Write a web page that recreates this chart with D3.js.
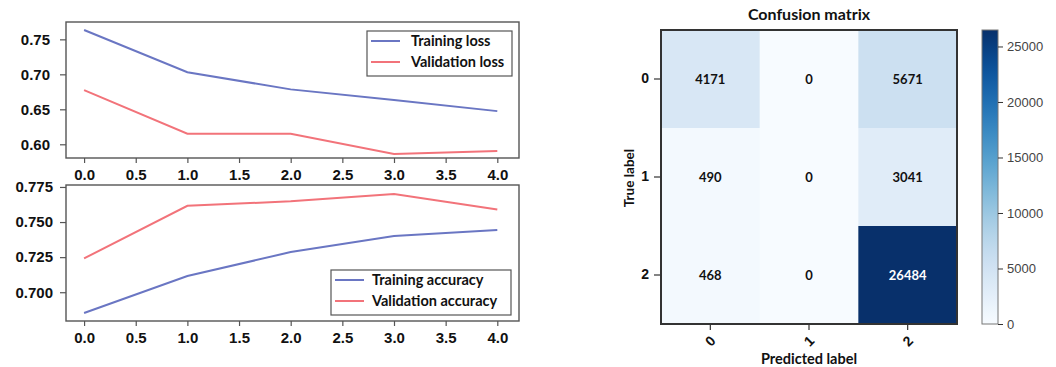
<!DOCTYPE html>
<html>
<head>
<meta charset="utf-8">
<script src="https://cdn.jsdelivr.net/npm/d3@7"></script>
<style>
  html, body { margin: 0; padding: 0; background: #fff; }
  svg { display: block; font-family: Lato, "Open Sans", sans-serif; }
</style>
</head>
<body>
<svg id="chart" width="1056" height="367"></svg>
<script>
// ---- training history ----
const epochs = [0, 1, 2, 3, 4];
const trainLoss = [0.7633, 0.7029, 0.6785, 0.6632, 0.6474];
const valLoss = [0.6775, 0.6152, 0.6152, 0.5861, 0.5904];
const trainAcc = [0.6852, 0.7116, 0.7286, 0.7400, 0.7443];
const valAcc = [0.7241, 0.7616, 0.7648, 0.7700, 0.7590];
const epochTicks = [0, 0.5, 1, 1.5, 2, 2.5, 3, 3.5, 4];
const lossTicks = [0.60, 0.65, 0.70, 0.75];
const accTicks = [0.700, 0.725, 0.750, 0.775];

// ---- confusion matrix ----
const classLabels = ["0", "1", "2"];
const matrix = [
  [4171, 0, 5671],
  [490, 0, 3041],
  [468, 0, 26484]
];
const colorbarTicks = [0, 5000, 10000, 15000, 20000, 25000];

const blue = "#6a76c3";
const red = "#f2737a";
const svg = d3.select("#chart");

function historyPanel(opts) {
  const { top, bottom, yDomain, yTicks, yFmt, series, legend, labelX, xLabelY } = opts;
  const x = d3.scaleLinear().domain([-0.175, 4.21]).range([66, 519]);
  const y = d3.scaleLinear().domain(yDomain).range([bottom, top]);
  const g = svg.append("g");

  const yAxis = g.append("g").attr("transform", "translate(66,0)")
    .call(d3.axisLeft(y).tickValues(yTicks).tickFormat(yFmt).tickSize(6).tickPadding(labelX));
  const xAxis = g.append("g").attr("transform", `translate(0,${bottom})`)
    .call(d3.axisBottom(x).tickValues(epochTicks).tickFormat(d3.format(".1f")).tickSize(5).tickPadding(xLabelY));
  [yAxis, xAxis].forEach(a => {
    a.select(".domain").remove();
    a.selectAll(".tick line").attr("stroke", "#555").attr("stroke-width", 1.2);
    a.selectAll(".tick text").attr("fill", "#111").attr("font-size", 15).attr("font-weight", 700);
  });

  const line = d3.line().x((d, i) => x(epochs[i])).y(d => y(d));
  series.forEach(s => {
    g.append("path").datum(s.values).attr("d", line)
      .attr("fill", "none").attr("stroke", s.color).attr("stroke-width", 2);
  });

  g.append("rect").attr("x", 66).attr("y", top).attr("width", 453).attr("height", bottom - top)
    .attr("fill", "none").attr("stroke", "#555").attr("stroke-width", 1.4);

  // legend
  const lg = g.append("g");
  lg.append("rect").attr("x", legend.x).attr("y", legend.y).attr("width", legend.w).attr("height", legend.h)
    .attr("fill", "#fff").attr("stroke", "#555").attr("stroke-width", 1.2);
  series.forEach((s, i) => {
    const cy = legend.y + 10 + i * 21;
    lg.append("line").attr("x1", legend.x + 4).attr("x2", legend.x + 33).attr("y1", cy).attr("y2", cy)
      .attr("stroke", s.color).attr("stroke-width", 2);
    lg.append("text").attr("x", legend.x + legend.textDx).attr("y", cy + 5)
      .attr("font-size", 14.5).attr("font-weight", 700).attr("fill", "#111").text(s.name);
  });
}

historyPanel({
  top: 22, bottom: 158,
  yDomain: [0.5804, 0.7748], yTicks: lossTicks, yFmt: d3.format(".2f"), labelX: 10, xLabelY: 6,
  series: [
    { name: "Training loss", values: trainLoss, color: blue },
    { name: "Validation loss", values: valLoss, color: red }
  ],
  legend: { x: 367, y: 31, w: 145, h: 45, textDx: 44 }
});

historyPanel({
  top: 185, bottom: 321,
  yDomain: [0.6795, 0.7764], yTicks: accTicks, yFmt: d3.format(".3f"), labelX: 7, xLabelY: 6,
  series: [
    { name: "Training accuracy", values: trainAcc, color: blue },
    { name: "Validation accuracy", values: valAcc, color: red }
  ],
  legend: { x: 331, y: 270, w: 180, h: 45, textDx: 41 }
});

// ---- confusion matrix heatmap ----
const vmax = d3.max(matrix.flat());
const color = d3.scaleSequential(d3.interpolateBlues).domain([0, vmax]);
const cx = d3.scaleBand().domain(classLabels).range([661, 957]);
const cy = d3.scaleBand().domain(classLabels).range([30, 324]);
const cm = svg.append("g");

const cells = matrix.flatMap((row, r) => row.map((v, c) => ({ r: classLabels[r], c: classLabels[c], v })));
cm.selectAll("rect.cell").data(cells).join("rect").attr("class", "cell")
  .attr("x", d => cx(d.c)).attr("y", d => cy(d.r))
  .attr("width", cx.bandwidth() + 0.5).attr("height", cy.bandwidth() + 0.5)
  .attr("fill", d => color(d.v));
cm.selectAll("text.val").data(cells).join("text").attr("class", "val")
  .attr("x", d => cx(d.c) + cx.bandwidth() / 2).attr("y", d => cy(d.r) + cy.bandwidth() / 2 + 4.5)
  .attr("text-anchor", "middle").attr("font-size", 13).attr("font-weight", 700)
  .attr("fill", d => d.v > vmax / 2 ? "#fff" : "#111").text(d => d.v);

cm.append("rect").attr("x", 661).attr("y", 30).attr("width", 296).attr("height", 294)
  .attr("fill", "none").attr("stroke", "#333").attr("stroke-width", 2);

const cyAxis = cm.append("g").attr("transform", "translate(660,0)")
  .call(d3.axisLeft(cy).tickSize(6).tickPadding(5));
const cxAxis = cm.append("g").attr("transform", "translate(0,325)")
  .call(d3.axisBottom(cx).tickSize(5).tickPadding(0));
[cyAxis, cxAxis].forEach(a => {
  a.select(".domain").remove();
  a.selectAll(".tick line").attr("stroke", "#333").attr("stroke-width", 1.2);
  a.selectAll(".tick text").attr("fill", "#111").attr("font-size", 14).attr("font-weight", 700);
});
cxAxis.selectAll(".tick text")
  .attr("text-anchor", "middle").attr("dy", null).attr("y", 0)
  .attr("transform", "translate(0,16) rotate(-45)").attr("dominant-baseline", "central");

svg.append("text").attr("x", 809).attr("y", 20).attr("text-anchor", "middle")
  .attr("font-size", 16).attr("font-weight", 700).attr("fill", "#111").text("Confusion matrix");
svg.append("text").attr("x", 809).attr("y", 364).attr("text-anchor", "middle")
  .attr("font-size", 14.5).attr("font-weight", 700).attr("fill", "#111").text("Predicted label");
svg.append("text").attr("transform", "translate(634,178) rotate(-90)").attr("text-anchor", "middle")
  .attr("font-size", 13.5).attr("font-weight", 700).attr("fill", "#111").text("True label");

// ---- colorbar ----
const cbY = d3.scaleLinear().domain([0, vmax]).range([324, 30]);
const defs = svg.append("defs");
const grad = defs.append("linearGradient").attr("id", "cbar").attr("x1", 0).attr("x2", 0).attr("y1", 1).attr("y2", 0);
d3.range(0, 1.0001, 0.05).forEach(t => {
  grad.append("stop").attr("offset", t).attr("stop-color", color(t * vmax));
});
svg.append("rect").attr("x", 982).attr("y", 30).attr("width", 16).attr("height", 294)
  .attr("fill", "url(#cbar)").attr("stroke", "#777").attr("stroke-width", 1);
const cbAxis = svg.append("g").attr("transform", "translate(998,0)")
  .call(d3.axisRight(cbY).tickValues(colorbarTicks).tickFormat(d3.format("d")).tickSize(5).tickPadding(4));
cbAxis.select(".domain").remove();
cbAxis.selectAll(".tick line").attr("stroke", "#333");
cbAxis.selectAll(".tick text").attr("fill", "#444").attr("font-size", 13);
</script>
</body>
</html>
